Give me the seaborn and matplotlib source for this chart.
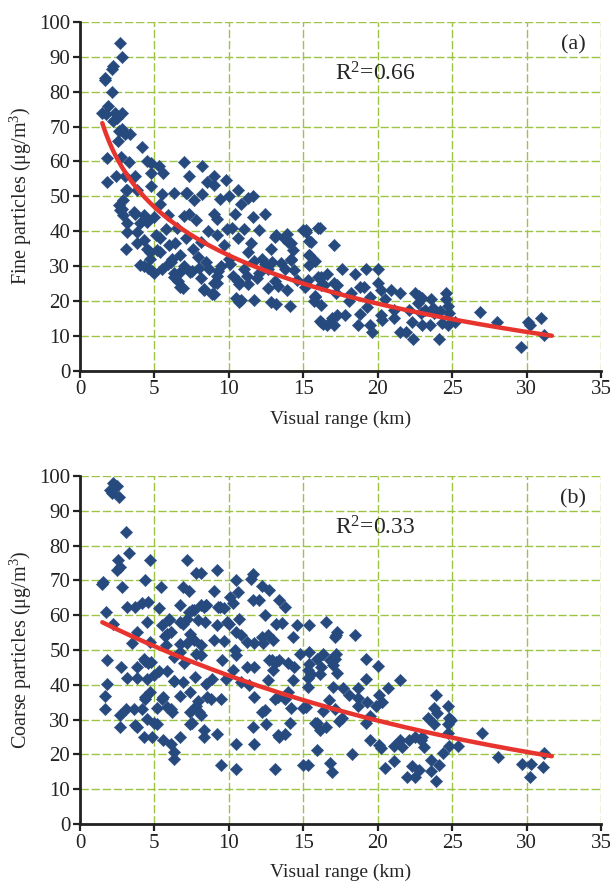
import numpy as np
import matplotlib
matplotlib.use('Agg')
import matplotlib.pyplot as plt
import seaborn as sns

# ─── Data ─────────────────────────────────────────────────────────────────────
FINE_X = [
    2.66, 2.81, 2.12, 2.2, 1.65, 1.7, 2.12, 1.46, 1.85, 1.76,
    2.36, 2.84, 2.25, 2.5, 2.6, 2.8, 3.33, 2.57, 3.0, 1.8,
    2.77, 3.3, 4.2, 4.5, 4.75, 5.3, 5.6, 4.75, 3.04, 3.7,
    1.82, 2.43, 3.15, 4.75, 6.98, 7.3, 8.2, 8.56, 9.0, 9.0,
    9.8, 10.6, 11.3, 11.6, 7.1, 8.2, 5.5, 6.3, 10.0, 7.2,
    7.66, 9.4, 3.06, 3.8, 2.9, 2.7, 3.7, 4.3, 4.5, 5.4,
    5.9, 7.0, 7.3, 7.8, 9.0, 9.2, 10.4, 11.6, 12.4, 10.8,
    3.15, 2.6, 2.8, 2.9, 3.6, 4.05, 4.5, 3.1, 3.15, 3.8,
    4.3, 4.5, 4.7, 4.05, 4.85, 5.4, 5.4, 6.0, 6.2, 6.75,
    6.75, 6.3, 6.75, 7.4, 7.9, 8.1, 8.3, 8.9, 9.0, 9.2,
    9.7, 10.0, 10.6, 10.7, 10.5, 10.7, 11.3, 11.7, 11.7, 12.2,
    12.6, 12.8, 12.8, 13.1, 13.3, 13.5, 13.7, 14.0, 14.1, 14.2,
    14.4, 14.6, 15.5, 15.4, 15.8, 16.0, 16.2, 15.8, 16.2, 16.1,
    16.3, 15.2, 16.0, 4.6, 4.95, 4.7, 5.2, 5.5, 6.1, 6.3,
    6.6, 6.9, 7.5, 8.1, 8.3, 9.0, 9.2, 9.3, 10.1, 10.6,
    10.8, 11.3, 11.9, 12.4, 12.6, 13.1, 13.2, 13.9, 14.2, 14.3,
    14.2, 13.9, 13.2, 15.1, 15.0, 3.8, 4.3, 5.8, 6.5, 7.1,
    7.6, 8.5, 8.7, 9.5, 5.1, 5.9, 7.0, 8.0, 11.0, 11.2,
    12.0, 10.3, 5.0, 6.4, 9.9, 10.2, 11.5, 12.0, 12.9, 13.8,
    11.0, 8.6, 9.2, 15.2, 16.1, 15.4, 17.05, 15.4, 15.4, 15.3,
    15.8, 15.7, 16.2, 16.6, 16.4, 17.05, 17.3, 17.2, 17.6, 18.5,
    19.2, 20.0, 18.8, 18.2, 19.1, 19.5, 18.1, 16.2, 16.6, 16.9,
    17.05, 17.3, 17.8, 18.7, 18.8, 19.3, 19.5, 19.6, 20.2, 20.3,
    20.0, 20.2, 20.5, 20.9, 21.1, 21.1, 21.5, 21.5, 21.9, 22.1,
    22.3, 22.4, 22.5, 22.7, 22.8, 22.9, 23.0, 23.0, 23.2, 23.5,
    23.6, 23.7, 23.8, 24.1, 24.2, 24.3, 24.6, 24.6, 24.7, 24.8,
    24.7, 25.2, 26.9, 28.0, 29.6, 30.1, 30.2, 31.0, 31.2,
]
FINE_Y = [
    94, 90, 86.6, 87.5, 83.3, 84, 80, 74, 76, 73.6,
    74, 74, 71.7, 72.5, 68.7, 69.3, 67.9, 65.8, 68, 61,
    61.2, 59.7, 64, 60, 59.6, 58.8, 56.8, 56.8, 55.9, 55.9,
    54, 55.9, 51.8, 52.8, 59.7, 55.9, 58.8, 54, 53.2, 55.9,
    54.8, 51.8, 49.6, 50, 50.9, 50.6, 50.6, 50.8, 50, 51,
    48.9, 49.1, 51.9, 51.7, 48.9, 46, 45, 44.6, 42.7, 47.9,
    44.6, 44.3, 45, 43.1, 45, 43.6, 45, 44.1, 45, 47.9,
    42.2, 47.6, 46.2, 44.6, 45.5, 42.2, 43, 35, 39.8, 39.8,
    37.4, 35, 32.1, 30.4, 28.5, 37.9, 34, 36, 32.1, 33,
    28.3, 26.7, 23.9, 28.3, 32.7, 36.9, 23.4, 22, 25.2, 27.1,
    36, 32.1, 37.9, 24.7, 20.8, 19.6, 34, 31.3, 20.1, 32.1,
    29.2, 35, 19.6, 38.4, 24.2, 30.9, 37.9, 36.9, 18.6, 32.1,
    28.7, 25.9, 36.9, 33, 31.3, 26.9, 24.4, 21.3, 18.9, 14.2,
    13.3, 39.6, 41, 29.5, 28, 34, 34.6, 29, 31, 28,
    25.7, 23.8, 28.6, 26.6, 23, 22, 25, 28.6, 30.5, 25.7,
    20.3, 24.8, 26.6, 30.5, 23.8, 25.7, 38.9, 39.3, 36.5, 34.6,
    31.7, 23, 19, 24, 40.2, 36.5, 30, 40.5, 41, 38,
    35, 31, 29, 30, 39, 30.5, 30, 29.5, 29, 27,
    28, 27, 44, 36.5, 40.5, 41, 36.5, 40.2, 31, 29,
    40.5, 40, 39, 40.3, 41, 37.2, 36, 33, 30.2, 25.9,
    21.2, 19.8, 26.9, 27.8, 24.5, 25, 24.5, 22.1, 29, 27.8,
    29, 29, 24, 22.1, 24, 21.2, 19.8, 14, 13, 15,
    13, 16, 16, 13, 16.3, 18.2, 13, 11, 16, 14.4,
    25, 23.2, 20.4, 23.2, 17.4, 15, 22.2, 11, 11, 17.4,
    14, 9, 22.2, 19.5, 21.3, 16.5, 20.8, 13, 17.4, 13,
    20.4, 18, 16.5, 9, 17, 13.5, 22.2, 20.4, 18.5, 16.5,
    13, 14, 16.9, 14, 6.8, 14, 13, 15, 10.2,
]

COARSE_X = [
    2.25, 2.0, 2.14, 2.5, 2.6, 3.1, 3.27, 2.57, 2.7, 2.5,
    4.7, 1.46, 1.58, 4.4, 2.8, 5.45, 6.9, 7.3, 7.2, 7.8,
    8.1, 9.2, 9.0, 10.5, 10.6, 10.1, 11.6, 11.5, 11.6, 12.0,
    12.2, 12.7, 13.4, 13.8, 1.76, 2.25, 3.15, 3.7, 4.2, 4.6,
    5.3, 4.5, 6.0, 6.75, 7.5, 8.3, 9.4, 9.7, 10.3, 9.9,
    7.9, 6.9, 6.1, 5.7, 8.4, 12.4, 13.2, 13.6, 14.6, 14.3,
    13.0, 1.8, 2.75, 3.8, 4.3, 4.6, 3.8, 3.5, 4.7, 6.75,
    7.65, 8.1, 9.0, 9.7, 10.5, 10.8, 11.2, 11.7, 12.2, 10.4,
    12.9, 13.4, 14.0, 14.4, 14.8, 3.15, 3.8, 1.8, 1.7, 1.7,
    2.7, 2.7, 3.1, 3.6, 3.8, 4.2, 4.3, 4.5, 4.85, 5.2,
    5.6, 6.1, 6.3, 6.3, 6.7, 4.7, 4.4, 4.5, 4.4, 4.8,
    4.95, 5.3, 5.85, 6.3, 5.5, 6.1, 6.2, 6.75, 7.4, 7.4,
    7.8, 8.0, 7.9, 8.1, 7.4, 8.3, 8.3, 8.55, 8.45, 7.7,
    7.0, 7.8, 8.1, 6.75, 7.2, 7.4, 6.3, 5.75, 5.85, 5.5,
    5.95, 6.75, 7.2, 7.3, 8.1, 8.45, 7.65, 3.7, 5.0, 7.5,
    9.2, 9.45, 10.5, 10.5, 11.7, 12.5, 13.1, 13.3, 13.8, 14.1,
    14.95, 11.7, 12.2, 13.1, 13.8, 14.2, 15.0, 9.45, 8.8, 5.85,
    5.6, 5.2, 4.4, 6.3, 6.95, 9.55, 10.45, 11.2, 11.7, 12.7,
    13.0, 13.2, 15.4, 15.5, 16.2, 16.3, 16.8, 17.2, 17.1, 8.9,
    9.8, 10.3, 10.8, 11.35, 12.6, 13.3, 14.0, 14.3, 13.4, 12.4,
    11.6, 15.9, 16.1, 16.5, 15.9, 16.8, 16.9, 15.3, 17.0, 16.7,
    15.4, 16.5, 10.7, 10.0, 9.2, 12.6, 12.3, 9.3, 8.5, 15.2,
    17.3, 17.2, 18.5, 15.4, 15.9, 16.1, 17.1, 17.0, 17.3, 19.2,
    20.0, 15.3, 15.3, 15.3, 17.7, 18.1, 18.7, 18.7, 18.7, 19.3,
    19.2, 20.1, 20.3, 19.9, 20.7, 21.5, 16.3, 15.8, 17.1, 17.4,
    17.6, 19.5, 19.2, 19.5, 20.1, 20.2, 21.1, 21.6, 21.5, 22.1,
    22.5, 22.9, 23.1, 23.0, 23.4, 23.9, 23.8, 24.0, 23.8, 24.7,
    24.8, 24.7, 24.9, 24.7, 24.8, 24.4, 25.4, 23.6, 24.1, 23.6,
    23.9, 22.8, 22.5, 22.0, 22.3, 21.1, 20.5, 18.3, 27.0, 28.1,
    29.7, 30.3, 30.2, 31.1, 31.2,
]
COARSE_Y = [
    97.9, 96, 95, 97, 94, 84, 78, 76, 74, 73,
    76, 69, 69.5, 70, 68, 68, 68, 67, 76, 72,
    72, 73, 67, 70, 66.8, 65.3, 71.8, 70.3, 64.4, 64.4,
    68.3, 67.3, 64.4, 62.5, 61, 57.6, 62.5, 62.5, 63.4, 63.9,
    62, 58.1, 58.6, 63, 61.5, 62.5, 62.5, 62, 63.4, 58.1,
    58.6, 57.6, 55.3, 53.9, 58.1, 60, 57.6, 57.8, 57.1, 53.8,
    52.8, 47, 45, 45, 47.3, 46.3, 55.3, 51.9, 52.3, 51.8,
    53, 51.5, 53, 52.5, 55.3, 54.4, 52.4, 51.9, 53.8, 50,
    47.1, 47.1, 46.2, 45.2, 49, 42.1, 42.1, 40.1, 36.9, 33.1,
    31.2, 28, 33.1, 33.1, 27.9, 33.1, 25, 30.2, 25, 28.8,
    24.1, 23.1, 20.7, 18.8, 25, 37.8, 35.9, 41.6, 46.9, 46.5,
    42.9, 44.1, 44.1, 41.1, 35.9, 33.1, 32.1, 36.9, 37.8, 32.1,
    34, 32.1, 35.4, 31.2, 28.8, 26.9, 25, 36.4, 40.3, 42.3,
    46.2, 49, 48.6, 49.5, 52, 54.7, 48.1, 51.4, 54.7, 57.1,
    59, 58.1, 59, 60.9, 62.8, 62.8, 61.4, 28.4, 29, 29,
    26, 16.9, 15.9, 23.1, 23.1, 28.8, 15.9, 25.5, 26, 29,
    16.9, 36.5, 32.2, 36, 36, 33.2, 33.2, 36, 36, 33.6,
    36.5, 33.2, 36.5, 41.2, 40.7, 47.1, 48.5, 45.2, 45.2, 47.1,
    44.2, 46.6, 46.1, 43.2, 45.2, 49, 47.1, 49, 53.8, 41.8,
    41.8, 44.2, 40.8, 39.9, 41.3, 36.5, 38, 41.3, 25, 32.7,
    27.9, 28.9, 27.1, 28, 21.2, 17.4, 15, 16.9, 39.4, 35.6,
    57.1, 58.1, 59, 57.6, 57.2, 54.3, 51.9, 62.4, 62.9, 33.7,
    55.3, 54.4, 54.2, 49.4, 47.3, 43, 47.3, 45.6, 43.3, 47.3,
    45.4, 44.3, 41.9, 39.5, 39.2, 37.1, 39.2, 36.2, 34, 35.2,
    41.8, 37.1, 35.2, 33.8, 39.2, 41.3, 32.4, 29, 33, 29.5,
    30.5, 31, 29, 24.1, 22.6, 21.9, 22.4, 22.1, 24.1, 24.1,
    25.1, 24.1, 22.1, 25.1, 30.5, 37.1, 33.3, 31.9, 28.6, 34,
    30.5, 28.6, 30, 26.1, 22.4, 20.5, 22.4, 18.4, 17.1, 15.2,
    12.4, 15.6, 13.4, 13.4, 16.6, 18.2, 16.1, 20.1, 26.1, 19.2,
    17.2, 17.2, 13.4, 16.3, 20.4,
]

# fitted curves as drawn (log fit for fine, exponential fit for coarse)
FIT_RANGE = (1.5, 31.7)
FINE_FIT = (79.1, 20.0)       # y = a - b*ln(x)
COARSE_FIT = (61.2, 0.0361)   # y = a*exp(-k*x)
R2_LABELS = ['0.66', '0.33']
PANEL_TAGS = ['(a)', '(b)']
Y_LABELS = [r'Fine particles (μg/m$^{3}$)', r'Coarse particles (μg/m$^{3}$)']
X_LABEL = 'Visual range (km)'

# ─── Style ────────────────────────────────────────────────────────────────────
sns.set_style('ticks')
plt.rcParams['font.family'] = ['Liberation Serif', 'DejaVu Serif']
plt.rcParams['mathtext.fontset'] = 'custom'
plt.rcParams['mathtext.rm'] = 'Liberation Serif'
plt.rcParams['mathtext.it'] = 'Liberation Serif:italic'

PT_COLOR = '#264a7e'
FIT_COLOR = '#e8342e'
GRID_COLOR = '#9dc444'

fig = plt.figure(figsize=(6.1, 8.83), dpi=100)
ax_a = fig.add_axes([0.1311, 0.5804, 0.8541, 0.3947])
ax_b = fig.add_axes([0.1311, 0.0668, 0.8541, 0.3941])

xfit = np.linspace(FIT_RANGE[0], FIT_RANGE[1], 200)
fits = [FINE_FIT[0] - FINE_FIT[1] * np.log(xfit),
        COARSE_FIT[0] * np.exp(-COARSE_FIT[1] * xfit)]
series = [(FINE_X, FINE_Y), (COARSE_X, COARSE_Y)]

for i, ax in enumerate([ax_a, ax_b]):
    xs, ys = series[i]
    ax.set_axisbelow(True)
    ax.grid(True, color=GRID_COLOR, lw=1.0, ls=(0, (6, 2)))
    sns.scatterplot(x=xs, y=ys, marker='D', s=40, color=PT_COLOR,
                    edgecolor=PT_COLOR, linewidth=0.3, ax=ax, zorder=3)
    sns.lineplot(x=xfit, y=fits[i], color=FIT_COLOR, lw=3.2, ax=ax, zorder=4)

    ax.set_xlim(0, 35)
    ax.set_ylim(0, 100)
    ax.set_xticks(range(0, 36, 5))
    ax.set_yticks(range(0, 101, 10))
    for s in ['top', 'right']:
        ax.spines[s].set_visible(False)
    for s in ['left', 'bottom']:
        ax.spines[s].set_linewidth(2.0)
        ax.spines[s].set_color('#222222')
    ax.tick_params(direction='out', length=5, width=1.6, labelsize=15,
                   colors='#222222', pad=2)
    ax.set_xlabel(X_LABEL, fontsize=14, labelpad=8)
    ax.set_ylabel(Y_LABELS[i], fontsize=14.5, labelpad=4)

    ax.text(17.1, 85, 'R$^{2}$=' + R2_LABELS[i], fontsize=17, va='center', ha='left')
    ax.text(34.0, 93.3, PANEL_TAGS[i], fontsize=16, va='center', ha='right')

fig.savefig('out.png', dpi=100)
